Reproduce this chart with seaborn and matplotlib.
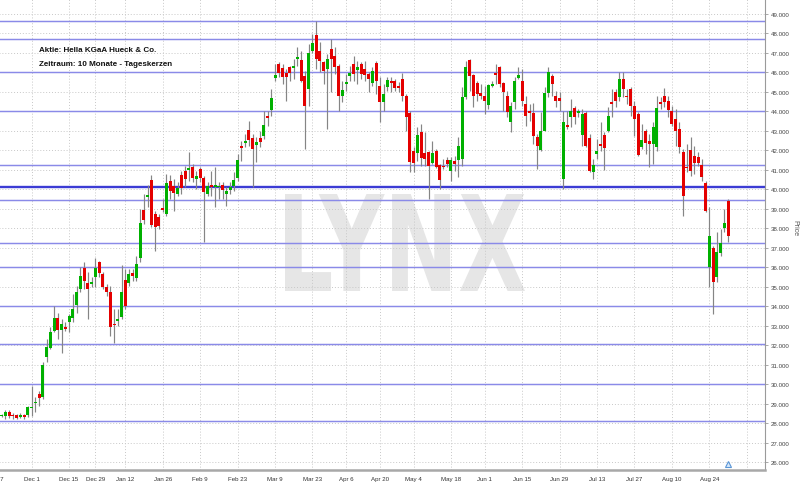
import numpy as np
import pandas as pd
import matplotlib
matplotlib.use("Agg")
import matplotlib.pyplot as plt
import seaborn as sns
from matplotlib.textpath import TextPath
from matplotlib.patches import PathPatch
from matplotlib.font_manager import FontProperties
from matplotlib.transforms import Affine2D, blended_transform_factory
from matplotlib.ticker import FixedLocator, FuncFormatter

# ---------------- data ----------------
start_date = "2014-11-19"
end_date = "2015-08-31"
holidays = ["2014-12-24", "2014-12-25", "2014-12-26", "2014-12-31", "2015-01-01",
            "2015-04-03", "2015-04-06", "2015-05-01", "2015-05-25"]

open_ = [28.35, 28.35, 28.59, 28.41, 28.41, 28.33, 28.41, 28.41, 28.76, 29.01,
         29.49, 29.32, 31.41, 31.87, 32.74, 33.39, 32.79, 32.95, 33.17, 33.39,
         34.08, 34.88, 35.96, 35.17, 35.14, 35.48, 36.25, 35.65, 34.97, 34.75,
         33.09, 33.26, 33.46, 35.34, 35.19, 35.70, 35.43, 36.47, 38.95, 39.59,
         40.50, 38.73, 38.56, 38.99, 38.73, 40.44, 40.15, 39.76, 40.73, 40.96,
         40.99, 41.16, 40.55, 41.06, 40.56, 39.76, 40.22, 40.14, 40.10, 40.22,
         39.76, 39.98, 40.15, 40.58, 42.21, 42.36, 43.06, 42.62, 42.27, 42.63,
         42.75, 43.75, 44.09, 45.71, 46.43, 46.21, 45.99, 46.26, 46.23, 46.69,
         46.66, 45.83, 45.15, 47.12, 47.94, 47.12, 46.52, 46.18, 47.20, 46.86,
         46.35, 44.81, 45.42, 45.83, 46.43, 46.13, 46.43, 46.18, 45.92, 45.44,
         46.49, 45.32, 44.50, 45.24, 45.58, 45.54, 45.27, 45.66, 44.81, 43.92,
         41.95, 41.85, 42.96, 41.85, 41.93, 41.35, 41.98, 41.27, 41.21, 41.51,
         40.92, 41.47, 41.51, 41.56, 44.72, 46.66, 45.87, 45.44, 44.93, 44.81,
         44.33, 45.32, 45.95, 46.26, 45.44, 44.81, 43.44, 44.47, 45.72, 45.58,
         44.38, 44.00, 43.90, 42.70, 42.02, 43.01, 44.93, 45.80, 44.81, 44.69,
         40.53, 43.27, 43.70, 44.18, 43.92, 42.81, 43.92, 42.63, 40.87, 41.81,
         42.33, 42.79, 43.01, 44.47, 44.98, 44.72, 45.66, 44.81, 45.15, 44.29,
         43.87, 42.19, 42.98, 42.46, 42.33, 42.19, 44.43, 44.81, 44.52, 44.04,
         43.61, 43.10, 41.90, 41.16, 42.02, 41.73, 41.68, 41.25, 40.32, 35.99,
         36.97, 35.52, 36.71, 38.00, 39.38]

high = [28.45, 28.69, 28.65, 28.50, 28.46, 28.50, 28.46, 28.89, 29.92, 29.32,
        29.66, 31.12, 32.32, 32.91, 34.03, 33.65, 33.34, 33.17, 33.60, 34.63,
        35.05, 36.00, 36.25, 35.74, 35.48, 36.46, 36.34, 35.74, 35.14, 35.05,
        33.86, 33.86, 36.11, 35.91, 35.91, 35.91, 36.59, 38.99, 39.76, 40.22,
        40.73, 38.90, 38.73, 39.50, 40.79, 40.73, 40.53, 40.36, 40.96, 41.21,
        41.90, 41.30, 40.96, 41.13, 40.70, 40.36, 40.96, 41.13, 40.36, 40.36,
        40.10, 40.36, 40.87, 41.81, 42.50, 42.84, 43.52, 42.84, 42.67, 43.01,
        44.04, 44.04, 45.15, 46.43, 46.52, 46.43, 46.18, 46.35, 46.69, 47.29,
        47.12, 46.09, 47.46, 47.97, 48.62, 47.55, 46.60, 46.95, 47.72, 47.29,
        46.43, 45.58, 45.92, 46.35, 46.86, 46.60, 46.52, 46.60, 46.01, 46.26,
        46.60, 45.75, 45.41, 45.75, 45.75, 45.66, 45.49, 45.95, 44.89, 44.04,
        42.16, 43.18, 43.35, 42.93, 41.98, 42.50, 42.07, 41.30, 41.56, 41.64,
        41.64, 41.73, 42.67, 45.24, 46.60, 46.69, 45.92, 45.58, 45.41, 45.32,
        45.41, 45.58, 46.43, 46.35, 45.49, 45.06, 44.47, 45.75, 46.26, 46.18,
        44.81, 44.38, 44.41, 42.84, 43.95, 45.24, 46.26, 45.92, 45.06, 44.98,
        44.04, 44.04, 44.64, 44.29, 44.12, 44.12, 44.04, 42.84, 41.56, 42.58,
        43.44, 42.92, 44.21, 45.15, 45.15, 46.01, 46.01, 45.15, 45.24, 44.55,
        43.95, 43.35, 43.10, 42.84, 43.44, 44.81, 44.72, 45.20, 44.81, 44.29,
        44.12, 43.44, 42.07, 42.33, 42.67, 42.24, 41.90, 41.56, 40.44, 39.08,
        37.11, 37.79, 37.96, 38.99, 39.50]

low = [28.30, 28.21, 28.25, 28.22, 28.20, 28.24, 28.21, 28.29, 28.38, 28.55,
       28.89, 29.24, 31.12, 31.80, 32.66, 32.32, 31.58, 32.74, 32.66, 33.17,
       33.65, 34.71, 34.88, 33.34, 34.97, 34.97, 35.48, 34.88, 34.54, 32.49,
       32.09, 33.00, 33.34, 33.86, 35.05, 35.28, 35.31, 36.25, 38.22, 39.07,
       38.05, 36.85, 37.96, 38.82, 38.65, 39.50, 38.90, 39.64, 39.76, 40.10,
       40.44, 40.36, 40.02, 40.36, 37.28, 39.67, 39.67, 39.08, 39.50, 39.50,
       39.16, 39.76, 39.93, 40.44, 41.47, 42.16, 42.24, 40.14, 41.38, 42.16,
       42.58, 43.27, 43.78, 45.58, 45.75, 45.41, 44.55, 45.58, 45.66, 46.35,
       45.49, 42.07, 44.29, 46.98, 46.18, 46.01, 45.41, 43.10, 44.98, 45.92,
       44.04, 44.47, 45.06, 45.58, 45.58, 45.41, 45.66, 45.58, 44.98, 45.32,
       44.89, 43.44, 44.04, 45.03, 44.98, 45.06, 44.98, 44.55, 43.01, 40.87,
       40.87, 41.47, 41.21, 41.21, 39.50, 41.30, 41.10, 40.02, 41.04, 41.13,
       40.45, 40.96, 40.62, 41.21, 44.64, 45.06, 44.21, 44.55, 44.64, 43.87,
       44.12, 45.24, 45.41, 45.24, 44.04, 43.70, 42.93, 44.12, 45.66, 44.30,
       43.27, 43.52, 42.33, 41.04, 41.98, 43.01, 44.72, 44.81, 44.21, 44.04,
       40.02, 43.10, 43.18, 43.35, 43.70, 42.24, 42.16, 40.87, 40.53, 41.56,
       41.98, 40.99, 42.92, 43.70, 44.21, 44.55, 44.72, 44.38, 43.78, 42.75,
       41.73, 42.07, 41.81, 41.13, 41.30, 41.98, 44.12, 44.21, 43.70, 43.27,
       42.24, 41.85, 38.65, 40.87, 40.70, 40.79, 41.21, 40.44, 38.82, 34.97,
       33.60, 35.23, 36.59, 37.79, 37.28]

close = [28.38, 28.55, 28.38, 28.35, 28.24, 28.41, 28.29, 28.81, 28.81, 29.07,
         29.30, 30.98, 31.89, 32.66, 33.39, 32.78, 33.09, 32.83, 33.48, 33.86,
         34.75, 35.57, 35.31, 34.88, 35.19, 35.96, 35.69, 34.97, 34.75, 32.91,
         33.02, 33.34, 34.75, 33.99, 35.65, 35.57, 36.17, 38.27, 38.44, 39.71,
         38.17, 38.05, 38.13, 38.94, 40.32, 39.93, 39.81, 40.05, 40.05, 40.53,
         41.10, 40.58, 40.67, 40.58, 39.85, 40.19, 40.10, 40.20, 40.19, 39.98,
         39.90, 40.14, 40.50, 41.52, 42.14, 42.50, 42.53, 42.07, 42.41, 42.41,
         43.30, 43.64, 44.67, 45.87, 45.95, 45.75, 45.75, 45.97, 46.31, 46.76,
         45.58, 44.29, 46.98, 47.49, 46.69, 46.60, 46.09, 46.69, 46.69, 46.30,
         44.81, 45.10, 45.49, 45.95, 45.92, 46.26, 45.92, 45.87, 45.66, 46.09,
         45.58, 44.47, 44.89, 45.61, 45.44, 45.20, 45.20, 44.81, 43.70, 41.39,
         41.35, 42.79, 41.61, 41.56, 41.21, 41.85, 41.13, 40.48, 41.13, 41.30,
         41.51, 41.30, 42.21, 44.72, 46.26, 45.84, 44.81, 44.89, 44.81, 44.55,
         45.36, 45.41, 45.89, 45.41, 44.98, 43.95, 44.30, 45.58, 45.87, 44.55,
         43.78, 43.94, 42.76, 42.24, 42.98, 44.93, 46.01, 45.41, 44.55, 44.52,
         43.44, 43.22, 44.00, 43.73, 43.99, 43.87, 42.24, 40.92, 41.27, 41.95,
         42.24, 42.12, 43.78, 44.38, 44.55, 45.66, 45.15, 44.72, 44.29, 43.61,
         41.78, 42.53, 42.36, 42.33, 43.18, 44.18, 44.38, 44.47, 44.07, 43.35,
         43.01, 42.19, 39.67, 41.09, 40.92, 41.33, 41.33, 40.62, 38.87, 37.62,
         35.23, 36.77, 37.23, 38.27, 37.62]

tick_dates = ["2014-11-17", "2014-12-01", "2014-12-15", "2014-12-29", "2015-01-12",
              "2015-01-26", "2015-02-09", "2015-02-23", "2015-03-09", "2015-03-23",
              "2015-04-06", "2015-04-20", "2015-05-04", "2015-05-18", "2015-06-01",
              "2015-06-15", "2015-06-29", "2015-07-13", "2015-07-27", "2015-08-10",
              "2015-08-24", "2015-09-07"]
tick_labels = ["Nov 17", "Dec 1", "Dec 15", "Dec 29", "Jan 12", "Jan 26", "Feb 9",
               "Feb 23", "Mar 9", "Mar 23", "Apr 6", "Apr 20", "May 4", "May 18",
               "Jun 1", "Jun 15", "Jun 29", "Jul 13", "Jul 27", "Aug 10", "Aug 24", ""]

level_lines = [48.62, 47.73, 46.00, 44.00, 41.27, 39.47, 37.27, 36.00, 34.00, 32.08, 30.00, 28.13]
strong_levels = [40.13]
price_ticks = list(range(26, 50))
event_dates = ["2015-08-31"]
title_lines = ["Aktie: Hella KGaA Hueck & Co.", "Zeitraum: 10 Monate - Tageskerzen"]
watermark = "LYNX"

# ---------------- derived ----------------
hol = np.array(holidays, dtype="datetime64[D]")
dates = pd.bdate_range(start_date, end_date, freq="C", holidays=holidays)
o = np.array(open_); h = np.array(high); l = np.array(low); c = np.array(close)
n = min(len(dates), len(o))
x = np.arange(n)
start64 = np.datetime64(start_date, "D")
tick_pos = np.busday_count(start64, np.array(tick_dates, dtype="datetime64[D]"), holidays=hol)
event_pos = np.busday_count(start64, np.array(event_dates, dtype="datetime64[D]"), holidays=hol)

GREEN = "#00b000"
RED = "#e40000"

# ---------------- figure ----------------
sns.set_theme(style="white")
plt.rcParams["font.family"] = ["Liberation Sans", "DejaVu Sans"]

W, H = 800, 485
fig = plt.figure(figsize=(W / 100, H / 100), dpi=100)
fig.patch.set_facecolor("white")
ax = fig.add_axes([-20 / W, (H - 471) / H, 785 / W, 471 / H])
ax.set_facecolor("white")

px_per_day = 3.744
x0_px = 1.7
px_per_unit = 19.48
ax.set_xlim((-20 - x0_px) / px_per_day, (765 - x0_px) / px_per_day)
ax.set_ylim(49 - (471 - 15) / px_per_unit, 49 + 15 / px_per_unit)

# watermark
tp = TextPath((0, 0), watermark, size=100, prop=FontProperties(family="DejaVu Sans", weight="bold"))
ext = tp.get_extents()
bx0, by0, bw, bh = 285 / W, (H - 292) / H, 240 / W, 97 / H
wm_tr = Affine2D().translate(-ext.x0, -ext.y0).scale(bw / ext.width, bh / ext.height).translate(bx0, by0) + fig.transFigure
ax.add_patch(PathPatch(tp, transform=wm_tr, facecolor="#e6e6e6", edgecolor="none", zorder=0.2))

# grid
ax.set_axisbelow(True)
ax.xaxis.set_major_locator(FixedLocator(tick_pos))
ax.set_xticklabels(tick_labels)
ax.yaxis.set_major_locator(FixedLocator(price_ticks))
ax.yaxis.set_major_formatter(FuncFormatter(lambda v, p: f"{v:.3f}"))
ax.grid(True, linestyle=(0, (1, 2)), color="#c8c8c8", linewidth=0.7)

# level lines
for lv in level_lines:
    ax.axhline(lv, color="#8a8ae8", linewidth=1.05, zorder=1.5)
for lv in strong_levels:
    ax.axhline(lv, color="#3c3cd4", linewidth=1.7, zorder=1.5)

# candles
up = c >= o
colors = np.where(up, GREEN, RED)
ax.vlines(x, l[:n], h[:n], color="#858585", linewidth=0.85, zorder=3)
bottom = np.minimum(o, c)[:n]
height = np.maximum(np.abs(c - o), 0.08)[:n]
ax.bar(x, height, bottom=bottom, width=0.8, color=colors[:n], edgecolor="none", linewidth=0, zorder=4)

# event marker at bottom
trans = blended_transform_factory(ax.transData, ax.transAxes)
ax.plot(event_pos, [0.012] * len(event_pos), marker="^", markersize=5, linestyle="none",
        markerfacecolor="#d6e8fb", markeredgecolor="#5b96d6", markeredgewidth=0.8,
        transform=trans, clip_on=False, zorder=6)

# axes styling
for side in ["left", "top"]:
    ax.spines[side].set_visible(False)
ax.spines["right"].set_color("#9a9a9a")
ax.spines["right"].set_linewidth(0.8)
ax.spines["bottom"].set_color("#a8a8a8")
ax.spines["bottom"].set_linewidth(1.8)
ax.yaxis.tick_right()
ax.tick_params(axis="y", which="both", right=True, left=False, length=2.5, width=0.6,
               color="#9a9a9a", pad=1.5, labelsize=4.4, labelcolor="#444444")
ax.tick_params(axis="x", which="both", bottom=False, length=0, pad=4.0,
               labelsize=4.4, labelcolor="#333333")

fig.text(795 / W, 1 - 228 / H, "Price", rotation=270, fontsize=5, color="#555555",
         ha="center", va="center")

for i, t in enumerate(title_lines):
    fig.text(39 / W, 1 - (51 + 13 * i) / H, t, fontsize=5.8, fontweight="bold",
             color="#111111", ha="left", va="center")

fig.savefig("out.png", dpi=100)
